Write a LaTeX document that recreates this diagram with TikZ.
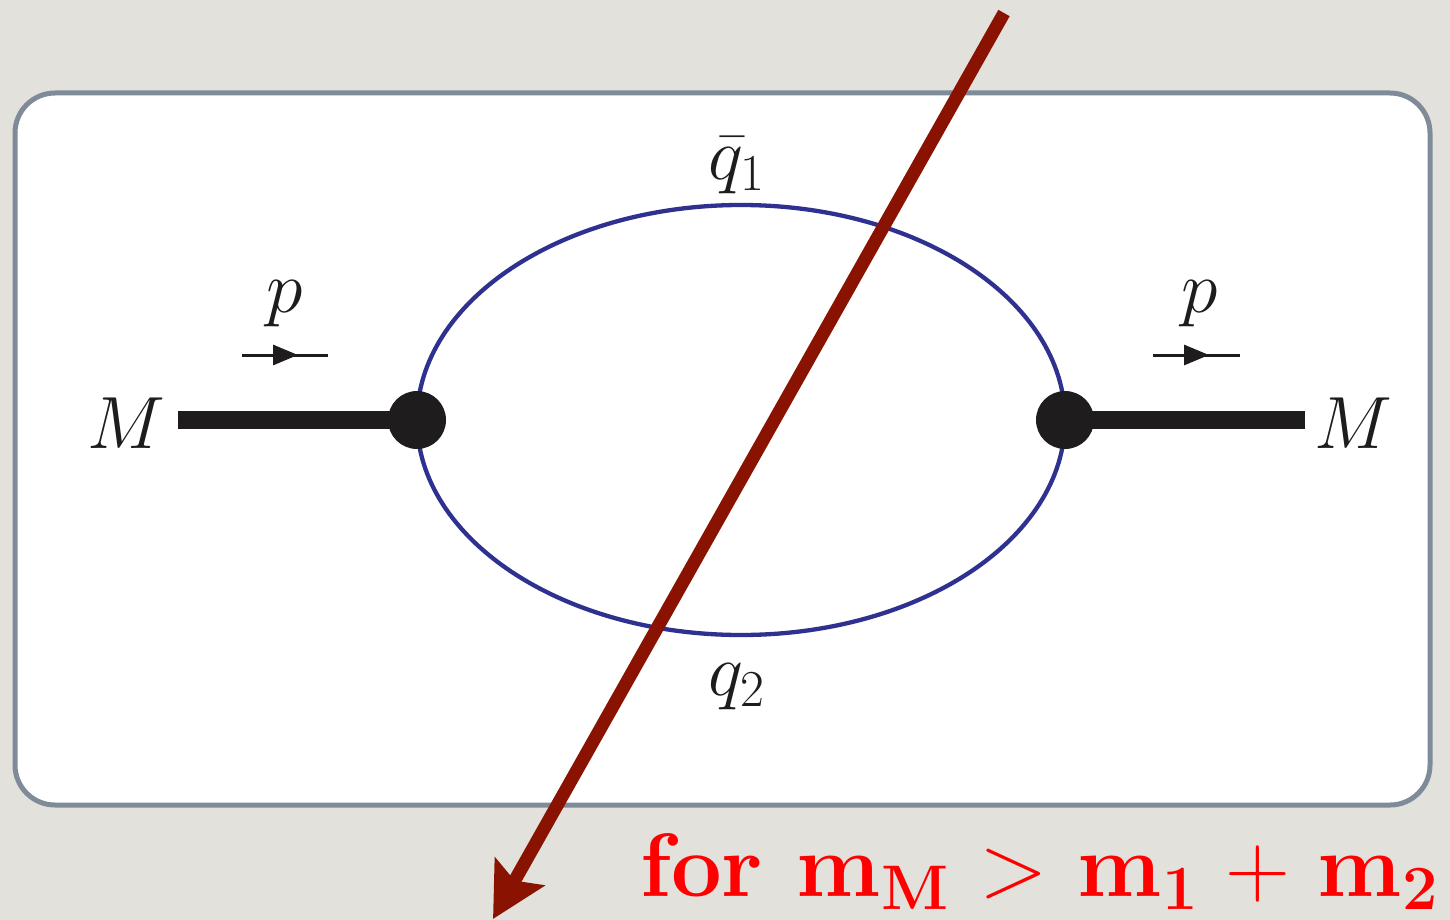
\RequirePackage{fix-cm}
\documentclass[tikz,border=0pt]{standalone}
\usetikzlibrary{arrows.meta}
\definecolor{bgc}{HTML}{E3E1DC}
\definecolor{boxc}{HTML}{7F8B99}
\definecolor{ellc}{HTML}{2E3190}
\definecolor{cutc}{HTML}{8A1200}
\definecolor{inkc}{HTML}{1E1C1D}
\definecolor{redc}{HTML}{FF0000}
\tikzset{
  dot/.style={circle, fill=inkc, minimum size=58pt, inner sep=0pt},
  leg/.style={inkc, line width=18pt},
  lab/.style={inkc, font=\fontsize{74}{80}\selectfont, inner sep=0pt, anchor=base},
  mom/.style={inkc, line width=3pt},
  momtip/.style={inkc, line width=3pt, -{Triangle[length=25pt,width=20pt]}},
  cut/.style={cutc, line width=13pt, -{Stealth[length=54pt,width=56pt,inset=10pt]}},
  cond/.style={redc, font=\fontsize{90}{96}\selectfont\bfseries, inner sep=0pt, anchor=base west},
}
\begin{document}
\begin{tikzpicture}[x=1pt,y=-1pt]
\fill[bgc] (0,0) rectangle (1450,920);
\useasboundingbox (0,0) rectangle (1450,920);
\draw[boxc, line width=5pt, fill=white, rounded corners=40pt] (15,93) rectangle (1430,805);
\coordinate (ctr) at (741,420);
\draw[ellc, line width=4.3pt] (ctr) ellipse [x radius=324, y radius=215];
\node[dot] (v1) at (417,420) {};
\node[dot] (v2) at (1065,420) {};
\coordinate (l) at (178,420);
\coordinate (r) at (1305,420);
\draw[leg] (l) -- (v1.center);
\draw[leg] (v2.center) -- (r);
\node[lab] (M1) at (126,448) {$M$};
\node[lab] (M2) at (1353,448) {$M$};
\node[lab] (p1) at (285,312) {$p$};
\node[lab] (p2) at (1200,312) {$p$};
\coordinate (a1) at (242,355); \coordinate (a1m) at (298,355); \coordinate (a1e) at (328,355);
\coordinate (a2) at (1153,355); \coordinate (a2m) at (1209,355); \coordinate (a2e) at (1240,355);
\draw[mom] (a1) -- (a1e);
\draw[momtip] (a1) -- (a1m);
\draw[mom] (a2) -- (a2e);
\draw[momtip] (a2) -- (a2m);
\node[lab] (q1) at (737,179) {$\bar q_1$};
\node[lab] (q2) at (737,695) {$q_2$};
\coordinate (c1) at (1004,13);
\coordinate (c2) at (493,919);
\draw[cut] (c1) -- (c2);
\node[cond] (txt) at (640,896) {\thickmuskip=6mu\medmuskip=5.5mu for $\mathbf{m}_{\mathbf{M}}>\mathbf{m}_{\mathbf{1}}+\mathbf{m}_{\mathbf{2}}$};
\end{tikzpicture}
\end{document}
